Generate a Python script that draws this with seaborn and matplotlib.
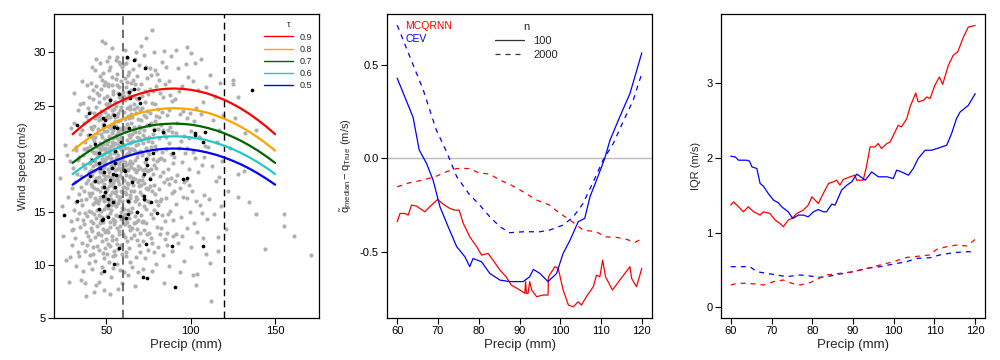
import numpy as np
import pandas as pd
import matplotlib
matplotlib.use("Agg")
import matplotlib.pyplot as plt
from matplotlib.lines import Line2D
import seaborn as sns

# ---------------- data ----------------
# panel 1: observations (gray) and the highlighted subset (black)
gray_pts = [
    (22.5, 18.2), (24.1, 12.7), (25.8, 21.3), (26.4, 10.5), (27.2, 16.4), (27.9, 8.4), (28.3, 19.8), (28.8, 14.1),
    (29.1, 22.9), (29.5, 11.9), (29.7, 17.2), (26.9, 20.3), (28.5, 10.7), (23.5, 15.5), (29.9, 13.3),
    (30.2, 19.1), (30.6, 15.2), (30.9, 23.4), (31.3, 12.5), (31.6, 17.8), (31.9, 9.9), (32.2, 21.1), (32.5, 14.3),
    (32.8, 18.6), (33.1, 11.2), (33.4, 24.6), (33.6, 16.7), (33.9, 20.2), (34.2, 13.6), (34.4, 22.3), (34.7, 8.6),
    (34.9, 17.3), (31.1, 26.2), (32.0, 15.9), (33.0, 19.9), (34.1, 10.8), (30.5, 13.4), (34.6, 25.1), (31.8, 20.8),
    (33.8, 14.9),
    (35.1, 18.4), (35.3, 12.1), (35.5, 22.7), (35.8, 15.6), (36.0, 20.3), (36.2, 9.4), (36.4, 25.2), (36.6, 17.0),
    (36.9, 13.8), (37.1, 21.6), (37.3, 19.1), (37.5, 11.3), (37.7, 24.0), (37.9, 16.2), (38.1, 7.1), (38.3, 20.8),
    (38.5, 14.6), (38.7, 26.9), (38.9, 18.0), (39.1, 12.7), (39.3, 22.2), (39.5, 15.1), (39.7, 19.6), (39.9, 10.2),
    (35.6, 27.3), (36.7, 23.4), (37.2, 14.9), (38.0, 17.7), (38.8, 21.0), (39.4, 24.8), (35.9, 19.5), (36.3, 14.2),
    (37.6, 8.3), (38.6, 11.9), (39.8, 16.8), (35.2, 16.1), (36.8, 20.9), (37.8, 13.1), (39.0, 23.6), (39.6, 18.7),
    (40.1, 21.2), (40.2, 16.5), (40.4, 12.3), (40.5, 24.4), (40.7, 18.9), (40.8, 14.1), (41.0, 27.1), (41.1, 20.0),
    (41.3, 9.6), (41.4, 17.4), (41.6, 22.8), (41.7, 13.2), (41.9, 25.6), (42.0, 19.3), (42.2, 15.7), (42.3, 11.0),
    (42.5, 23.1), (42.6, 17.9), (42.8, 21.7), (42.9, 14.8), (43.1, 28.3), (43.2, 19.8), (43.4, 12.6), (43.5, 16.3),
    (43.7, 24.9), (43.8, 20.6), (44.0, 8.1), (44.1, 18.2), (44.3, 22.4), (44.4, 15.2), (44.6, 26.2), (44.7, 13.7),
    (44.9, 19.0), (40.3, 19.6), (40.9, 23.0), (41.2, 15.0), (41.8, 18.5), (42.1, 26.5), (42.4, 13.9), (42.7, 20.5),
    (43.0, 10.4), (43.3, 23.8), (43.6, 18.0), (43.9, 14.4), (44.2, 21.1), (44.5, 17.1), (44.8, 24.0), (40.6, 10.9),
    (41.5, 20.7), (42.9, 17.2), (43.7, 29.4), (44.4, 11.8), (40.0, 25.8), (41.0, 13.5), (42.2, 21.9), (43.4, 15.9),
    (44.6, 20.2), (40.7, 17.6), (41.9, 11.7), (43.1, 22.0), (44.3, 16.0), (42.6, 7.4), (40.4, 22.1), (41.6, 16.8),
    (42.8, 24.3), (44.0, 19.5), (44.9, 12.9), (43.8, 26.8), (41.3, 28.6), (42.5, 18.8),
    (45.1, 20.4), (45.2, 15.8), (45.4, 23.6), (45.5, 11.4), (45.7, 18.3), (45.8, 26.0), (46.0, 13.9), (46.1, 21.5),
    (46.3, 17.0), (46.4, 29.0), (46.6, 9.2), (46.7, 19.7), (46.9, 24.5), (47.0, 15.1), (47.2, 22.0), (47.3, 12.2),
    (47.5, 18.9), (47.6, 27.4), (47.8, 16.3), (47.9, 20.9), (48.1, 14.0), (48.2, 23.3), (48.4, 10.6), (48.5, 19.2),
    (48.7, 25.7), (48.8, 17.6), (49.0, 21.8), (49.1, 13.1), (49.3, 30.9), (49.4, 18.1), (49.6, 23.9), (49.7, 15.5),
    (49.9, 20.1), (45.3, 17.8), (45.6, 21.1), (45.9, 14.7), (46.2, 24.1), (46.5, 19.0), (46.8, 12.8), (47.1, 26.6),
    (47.4, 20.3), (47.7, 14.5), (48.0, 18.6), (48.3, 28.1), (48.6, 16.0), (48.9, 22.6), (49.2, 11.6), (49.5, 19.9),
    (49.8, 25.1), (45.0, 22.8), (45.8, 8.4), (46.4, 16.4), (47.0, 21.2), (47.6, 18.0), (48.2, 13.4), (48.8, 26.9),
    (49.4, 21.0), (45.4, 19.4), (46.0, 27.8), (46.6, 14.2), (47.2, 17.3), (47.8, 23.0), (48.4, 20.4), (49.0, 16.7),
    (49.6, 12.4), (45.7, 25.3), (46.3, 20.8), (46.9, 17.9), (47.5, 9.8), (48.1, 21.4), (48.7, 15.3), (49.3, 24.4),
    (49.9, 17.0), (45.2, 13.0), (46.1, 18.7), (47.0, 23.7), (47.9, 11.1), (48.6, 19.6), (49.5, 27.2), (45.9, 16.1),
    (46.8, 22.3), (47.7, 20.0), (48.5, 7.6), (49.2, 18.4), (47.3, 31.1),
    (50.1, 19.5), (50.2, 23.8), (50.3, 14.6), (50.5, 21.4), (50.6, 17.1), (50.7, 27.0), (50.9, 12.0), (51.0, 20.2),
    (51.1, 24.9), (51.3, 15.9), (51.4, 18.7), (51.5, 29.6), (51.7, 10.3), (51.8, 22.1), (51.9, 16.6), (52.1, 20.8),
    (52.2, 13.6), (52.3, 25.6), (52.5, 18.2), (52.6, 23.2), (52.7, 8.9), (52.9, 19.9), (53.0, 15.2), (53.1, 27.7),
    (53.3, 21.6), (53.4, 17.5), (53.5, 12.7), (53.7, 24.2), (53.8, 19.2), (53.9, 14.3), (54.1, 22.7), (54.2, 26.4),
    (54.3, 16.0), (54.5, 20.5), (54.6, 11.3), (54.7, 18.0), (54.9, 23.5), (50.4, 25.9), (50.8, 18.4), (51.2, 13.1),
    (51.6, 21.0), (52.0, 17.8), (52.4, 28.6), (52.8, 15.6), (53.2, 22.4), (53.6, 19.6), (54.0, 9.7), (54.4, 24.7),
    (54.8, 17.2), (50.0, 16.3), (50.6, 22.6), (51.2, 19.0), (51.8, 25.2), (52.4, 14.9), (53.0, 20.1), (53.6, 16.9),
    (54.2, 21.3), (54.8, 13.8), (50.3, 11.0), (50.9, 21.7), (51.5, 17.4), (52.1, 23.9), (52.7, 19.3), (53.3, 12.3),
    (53.9, 26.1), (54.5, 18.5), (50.2, 29.2), (50.8, 15.4), (51.4, 23.0), (52.0, 20.4), (52.6, 16.2), (53.2, 24.6),
    (53.8, 21.9), (54.4, 14.1), (51.1, 26.8), (51.7, 18.9), (52.3, 11.8), (52.9, 22.9), (53.5, 30.4), (54.1, 17.7),
    (54.7, 20.9), (50.5, 13.3), (51.3, 20.6), (52.2, 7.3), (53.1, 18.3), (53.9, 23.3), (54.6, 15.7), (50.7, 24.1),
    (51.9, 14.0), (53.4, 26.9), (54.3, 19.4), (52.5, 21.2), (51.6, 28.3), (53.7, 10.8), (50.1, 20.7),
    (55.1, 21.5), (55.2, 16.8), (55.4, 25.3), (55.5, 12.4), (55.7, 19.7), (55.8, 23.1), (56.0, 14.7), (56.1, 28.0),
    (56.3, 18.1), (56.4, 21.9), (56.6, 10.1), (56.7, 20.3), (56.9, 26.2), (57.0, 15.8), (57.2, 22.5), (57.3, 17.6),
    (57.5, 29.1), (57.6, 13.2), (57.8, 19.1), (57.9, 24.6), (58.1, 16.4), (58.2, 21.1), (58.4, 11.9), (58.5, 18.8),
    (58.7, 27.3), (58.8, 15.0), (59.0, 22.8), (59.1, 19.9), (59.3, 8.3), (59.4, 25.7), (59.6, 17.3), (59.7, 21.4),
    (59.9, 13.9), (55.3, 18.9), (55.6, 27.5), (55.9, 20.6), (56.2, 13.5), (56.5, 24.0), (56.8, 17.9), (57.1, 11.5),
    (57.4, 20.0), (57.7, 26.7), (58.0, 18.5), (58.3, 23.6), (58.6, 14.3), (58.9, 20.9), (59.2, 28.6), (59.5, 16.0),
    (59.8, 19.3), (55.0, 14.1), (55.8, 22.2), (56.4, 19.0), (57.0, 24.3), (57.6, 16.1), (58.2, 9.5), (58.8, 22.0),
    (59.4, 18.2), (55.4, 23.9), (56.0, 17.0), (56.6, 29.6), (57.2, 14.6), (57.8, 21.7), (58.4, 26.0), (59.0, 15.4),
    (59.6, 23.0), (55.2, 10.9), (55.9, 25.0), (56.5, 16.5), (57.1, 21.3), (57.7, 12.9), (58.3, 19.8), (58.9, 24.9),
    (59.5, 11.0), (55.5, 20.1), (56.3, 26.9), (57.0, 18.4), (57.9, 22.7), (58.6, 17.0), (59.3, 20.7), (55.7, 15.5),
    (56.8, 23.5), (57.5, 19.5), (58.1, 28.9), (59.1, 16.9), (59.8, 26.3), (56.1, 12.0), (57.3, 25.8), (58.5, 21.9),
    (59.7, 14.6), (56.9, 7.7), (55.6, 29.3), (58.0, 13.7), (59.2, 19.0), (57.4, 22.9),
    (60.1, 20.2), (60.2, 24.4), (60.4, 15.3), (60.5, 22.6), (60.7, 18.0), (60.8, 27.6), (61.0, 12.6), (61.1, 21.0),
    (61.3, 25.5), (61.4, 16.7), (61.6, 19.4), (61.7, 29.0), (61.9, 10.8), (62.0, 23.3), (62.2, 17.2), (62.3, 21.8),
    (62.5, 14.0), (62.6, 26.3), (62.8, 19.0), (62.9, 24.0), (63.1, 9.0), (63.2, 20.6), (63.4, 15.9), (63.5, 28.2),
    (63.7, 22.2), (63.8, 18.3), (64.0, 13.3), (64.1, 25.0), (64.3, 19.8), (64.4, 15.0), (64.6, 23.4), (64.7, 27.1),
    (64.9, 17.0), (60.3, 17.3), (60.6, 28.9), (60.9, 19.7), (61.2, 14.3), (61.5, 22.9), (61.8, 18.5), (62.1, 12.2),
    (62.4, 20.4), (62.7, 27.9), (63.0, 17.6), (63.3, 23.8), (63.6, 11.6), (63.9, 21.5), (64.2, 16.3), (64.5, 26.5),
    (64.8, 20.9), (60.0, 12.9), (60.7, 21.2), (61.4, 26.7), (62.0, 16.1), (62.6, 22.9), (63.2, 13.7), (63.8, 24.7),
    (64.4, 19.2), (60.4, 25.9), (61.0, 16.9), (61.6, 11.2), (62.2, 24.8), (62.8, 15.2), (63.4, 19.5), (64.0, 22.0),
    (64.6, 12.5), (60.2, 9.3), (60.9, 23.7), (61.7, 20.3), (62.4, 29.5), (63.1, 18.9), (63.9, 16.6), (64.7, 21.6),
    (60.5, 19.0), (61.3, 13.8), (62.1, 27.2), (62.9, 21.0), (63.7, 26.0), (64.3, 10.3), (61.2, 30.2), (62.5, 17.7),
    (63.6, 14.4), (64.9, 24.2), (60.8, 14.8), (63.0, 25.7), (64.1, 18.4),
    (65.1, 19.6), (65.3, 23.9), (65.4, 15.4), (65.6, 27.4), (65.8, 18.2), (65.9, 21.7), (66.1, 12.8), (66.3, 25.1),
    (66.4, 17.0), (66.6, 20.8), (66.8, 29.4), (66.9, 14.6), (67.1, 22.5), (67.3, 18.7), (67.4, 10.7), (67.6, 24.3),
    (67.8, 16.4), (67.9, 20.2), (68.1, 27.8), (68.3, 13.4), (68.4, 22.0), (68.6, 17.8), (68.8, 25.6), (68.9, 19.3),
    (69.1, 11.9), (69.3, 23.1), (69.4, 15.7), (69.6, 28.8), (69.8, 20.7), (69.9, 16.9), (65.2, 13.5), (65.7, 25.9),
    (66.2, 19.0), (66.7, 16.0), (67.2, 27.0), (67.7, 21.3), (68.2, 15.0), (68.7, 23.7), (69.2, 18.0), (69.7, 13.0),
    (65.0, 22.3), (65.5, 9.8), (66.0, 17.5), (66.5, 23.0), (67.0, 19.9), (67.5, 14.0), (68.0, 24.9), (68.5, 20.5),
    (69.0, 9.3), (69.5, 21.9), (65.9, 28.4), (66.4, 22.7), (66.9, 18.1), (67.4, 25.7), (67.9, 12.3), (68.4, 18.9),
    (68.9, 26.6), (69.4, 17.4), (65.4, 17.9), (66.6, 13.9), (67.7, 30.0), (68.6, 21.4), (69.7, 24.6), (65.8, 20.9),
    (67.0, 8.0), (68.1, 16.2), (69.2, 22.5), (66.2, 24.7), (67.4, 20.6), (68.8, 14.2),
    (70.1, 19.1), (70.3, 23.6), (70.5, 14.7), (70.7, 27.0), (70.9, 20.3), (71.1, 16.6), (71.3, 24.8), (71.5, 12.2),
    (71.7, 21.5), (71.9, 18.4), (72.1, 29.8), (72.3, 15.5), (72.5, 22.7), (72.7, 19.7), (72.9, 10.6), (73.1, 25.3),
    (73.3, 17.2), (73.5, 21.0), (73.7, 13.9), (73.9, 27.6), (74.1, 18.8), (74.3, 23.2), (74.5, 16.0), (74.7, 20.6),
    (74.9, 11.4), (70.2, 11.2), (70.6, 21.8), (71.0, 25.9), (71.4, 18.0), (71.8, 14.1), (72.2, 24.1), (72.6, 17.7),
    (73.0, 21.9), (73.4, 28.6), (73.8, 15.3), (74.2, 20.1), (74.6, 26.1), (70.4, 17.5), (70.8, 30.6), (71.2, 20.5),
    (71.6, 9.6), (72.0, 22.2), (72.4, 13.3), (72.8, 26.4), (73.2, 19.0), (73.6, 23.9), (74.0, 12.9), (74.4, 21.7),
    (74.8, 17.1), (71.0, 14.0), (72.0, 18.9), (73.0, 16.1), (74.0, 24.5), (70.0, 22.9), (73.5, 31.4),
    (75.2, 20.4), (75.5, 15.9), (75.7, 24.3), (76.0, 18.2), (76.3, 27.9), (76.5, 12.5), (76.8, 21.6), (77.0, 17.0),
    (77.3, 25.2), (77.5, 14.4), (77.8, 22.3), (78.0, 19.4), (78.3, 30.0), (78.5, 11.2), (78.8, 23.5), (79.0, 16.7),
    (79.3, 20.8), (79.5, 26.8), (79.8, 13.6), (75.4, 22.0), (75.9, 28.5), (76.2, 14.8), (76.7, 19.0), (77.2, 9.4),
    (77.7, 26.4), (78.2, 17.5), (78.7, 21.2), (79.2, 10.1), (79.7, 24.0), (75.1, 13.0), (75.8, 17.4), (76.6, 23.4),
    (77.4, 20.0), (78.1, 15.2), (78.9, 28.3), (79.6, 19.1), (75.6, 26.6), (76.4, 21.1), (77.1, 12.1), (77.9, 18.6),
    (78.6, 25.1), (79.4, 16.0), (76.9, 32.1), (78.4, 22.8), (75.3, 18.9),
    (80.2, 19.8), (80.5, 24.7), (80.8, 15.6), (81.1, 21.9), (81.4, 27.4), (81.7, 12.9), (82.0, 18.4), (82.3, 23.2),
    (82.6, 16.2), (82.9, 29.1), (83.2, 20.6), (83.5, 10.9), (83.8, 25.8), (84.1, 17.8), (84.4, 22.4), (84.7, 14.1),
    (80.3, 28.0), (80.7, 11.7), (81.0, 17.1), (81.5, 23.9), (82.0, 26.2), (82.5, 20.1), (83.0, 14.7), (83.4, 22.7),
    (84.0, 19.9), (84.5, 27.0), (84.9, 12.4), (81.2, 20.0), (82.2, 13.5), (83.7, 18.7), (80.9, 22.8), (82.8, 24.4),
    (84.2, 8.3), (81.8, 16.0), (83.9, 30.1),
    (85.2, 20.9), (85.5, 16.3), (85.9, 24.1), (86.2, 13.0), (86.6, 19.0), (86.9, 27.3), (87.3, 21.5), (87.6, 15.1),
    (88.0, 23.0), (88.3, 18.2), (88.7, 11.3), (89.0, 25.4), (89.4, 19.6), (89.7, 14.2), (85.4, 28.6), (85.8, 11.9),
    (86.4, 22.7), (87.0, 17.6), (87.8, 26.0), (88.5, 20.4), (89.2, 22.5), (89.9, 17.0), (86.0, 18.1), (87.4, 9.9),
    (88.2, 29.7), (89.5, 12.7), (85.6, 22.0), (86.8, 14.8), (88.8, 16.8), (87.1, 24.6),
    (90.3, 20.2), (90.7, 25.6), (91.1, 15.7), (91.5, 22.4), (91.9, 18.5), (92.3, 28.5), (92.7, 12.1), (93.1, 21.0),
    (93.5, 17.2), (93.9, 24.2), (94.3, 14.5), (94.7, 19.7), (95.1, 26.8), (95.5, 16.4), (95.9, 22.1), (96.3, 10.4),
    (96.7, 20.5), (97.1, 18.0), (97.5, 23.8), (97.9, 13.5), (98.3, 27.7), (98.7, 19.0), (99.1, 21.9), (99.5, 15.0),
    (99.9, 29.9), (90.5, 17.9), (91.3, 12.9), (92.1, 23.4), (93.0, 26.4), (94.0, 21.7), (95.0, 12.7), (96.0, 17.8),
    (97.0, 28.9), (98.0, 21.0), (99.0, 17.5), (91.0, 30.2), (93.7, 9.3), (95.7, 24.5), (97.7, 16.3), (99.7, 24.3),
    (98.0, 30.5),
    (100.4, 22.6), (100.9, 17.0), (101.5, 27.3), (102.0, 13.9), (102.6, 20.1), (103.1, 24.8), (103.7, 9.1),
    (104.2, 18.7), (104.8, 22.0), (105.3, 15.6), (105.9, 29.4), (106.4, 19.4), (107.0, 12.5), (107.5, 25.3),
    (108.1, 16.6), (108.6, 21.2), (109.2, 26.7), (109.7, 14.3), (100.2, 11.7), (101.2, 20.6), (102.3, 29.0),
    (103.4, 16.0), (104.5, 26.5), (105.6, 21.9), (106.7, 14.9), (107.8, 20.2), (108.9, 11.0), (101.8, 23.5),
    (104.0, 13.1), (106.1, 24.2), (101.4, 9.0), (103.4, 8.1),
    (110.4, 21.1), (111.0, 16.2), (111.6, 27.9), (112.2, 6.6), (112.8, 19.3), (113.4, 23.6), (114.0, 14.8),
    (114.6, 25.8), (115.2, 17.9), (115.8, 21.6), (116.4, 12.6), (117.0, 22.7), (117.6, 27.1), (118.2, 15.5),
    (118.8, 19.8), (119.4, 24.1), (111.3, 10.2), (116.8, 18.3), (115.9, 11.3),
    (121.8, 17.0), (120.8, 13.4), (124.8, 27.4), (124.9, 27.0), (127.8, 25.8), (127.8, 18.6), (131.7, 18.8),
    (127.8, 16.4), (132.3, 22.4), (138.7, 22.7), (134.7, 15.9), (138.7, 14.8), (155.2, 14.8), (155.2, 13.7),
    (160.9, 12.7), (144.0, 11.5), (171.0, 10.9), (123.5, 21.0), (126.0, 23.8),
]

black_pts = [
    (25.0, 14.7), (32.9, 23.2), (32.6, 16.0), (39.9, 24.3), (40.5, 22.2), (41.5, 19.9), (40.3, 18.4), (43.3, 17.9),
    (43.1, 21.4), (45.4, 20.5), (45.8, 19.6), (46.4, 19.1), (45.8, 15.3), (47.4, 14.2), (47.8, 23.8), (48.4, 23.2),
    (49.4, 23.6), (48.4, 18.7), (48.8, 17.3), (49.0, 16.9), (48.2, 16.5), (50.8, 16.2), (50.8, 15.6), (50.8, 14.5),
    (47.8, 14.3), (48.4, 9.4), (52.0, 25.5), (52.4, 18.0), (53.4, 19.1), (53.8, 18.6), (54.4, 24.1), (54.8, 23.0),
    (55.4, 20.7), (55.4, 19.6), (56.0, 18.5), (55.4, 17.3), (53.8, 15.9), (54.3, 10.1), (56.3, 22.9), (57.7, 26.1),
    (57.9, 14.6), (57.8, 11.6), (58.7, 21.6), (60.3, 18.9), (61.0, 18.8), (62.3, 29.6), (63.3, 26.3), (63.1, 16.0),
    (63.1, 14.8), (61.7, 14.4), (63.7, 22.9), (63.9, 25.7), (65.3, 17.8), (66.3, 26.6), (66.3, 29.3), (68.3, 15.0),
    (69.2, 25.7), (69.8, 25.2), (72.0, 8.9), (73.9, 8.8), (72.2, 18.6), (72.6, 16.5), (72.6, 16.2), (73.0, 28.5),
    (73.3, 12.0), (73.4, 20.0), (74.0, 19.4), (75.6, 18.1), (75.2, 23.2), (76.6, 15.9), (77.8, 20.5), (78.2, 22.7),
    (80.2, 14.9), (83.7, 22.5), (88.9, 11.8), (89.7, 20.5), (90.8, 7.9), (95.3, 18.1), (97.6, 18.2), (102.5, 22.4),
    (102.7, 22.2), (107.0, 11.8), (107.0, 21.6), (108.3, 22.5), (136.1, 26.5),
]

# panel 1: fitted conditional quantile curves
curve_x = [30, 35, 40, 45, 50, 55, 60, 65, 70, 75, 80, 85, 90,
           95, 100, 105, 110, 115, 120, 125, 130, 135, 140, 145, 150]
tau_labels = ["0.9", "0.8", "0.7", "0.6", "0.5"]
q90 = [22.30, 22.99, 23.61, 24.18, 24.69, 25.14, 25.53, 25.85, 26.12, 26.33, 26.48, 26.57, 26.60,
       26.57, 26.48, 26.33, 26.12, 25.85, 25.53, 25.14, 24.69, 24.18, 23.61, 22.99, 22.30]
q80 = [20.75, 21.39, 21.97, 22.50, 22.97, 23.39, 23.75, 24.06, 24.31, 24.50, 24.64, 24.72, 24.75,
       24.72, 24.64, 24.50, 24.31, 24.06, 23.75, 23.39, 22.97, 22.50, 21.97, 21.39, 20.75]
q70 = [19.60, 20.19, 20.73, 21.22, 21.66, 22.04, 22.38, 22.66, 22.89, 23.07, 23.20, 23.27, 23.30,
       23.27, 23.20, 23.07, 22.89, 22.66, 22.38, 22.04, 21.66, 21.22, 20.73, 20.19, 19.60]
q60 = [18.55, 19.12, 19.63, 20.10, 20.52, 20.89, 21.21, 21.48, 21.71, 21.88, 22.00, 22.08, 22.10,
       22.08, 22.00, 21.88, 21.71, 21.48, 21.21, 20.89, 20.52, 20.10, 19.63, 19.12, 18.55]
q50 = [17.55, 18.09, 18.59, 19.04, 19.44, 19.79, 20.10, 20.36, 20.57, 20.74, 20.86, 20.93, 20.95,
       20.93, 20.86, 20.74, 20.57, 20.36, 20.10, 19.79, 19.44, 19.04, 18.59, 18.09, 17.55]

# panel 2: median bias, x / y per method and n
bias_cev100_x = [60, 63.9, 65.4, 67.2, 68.8, 70.5, 72.5, 74.6, 76.6, 77.8, 78.6, 80.7, 82.7, 85.2, 87.6, 90.9,
                 92.5, 93.4, 95, 97, 99.1, 100.7, 102.4, 104.4, 106, 107.3, 108.9, 110.9, 112.2, 114.6, 117.1, 120]
bias_cev100_y = [0.43, 0.22, 0.045, -0.027, -0.116, -0.26, -0.366, -0.473, -0.527, -0.58, -0.536, -0.554,
                 -0.616, -0.652, -0.66, -0.66, -0.634, -0.595, -0.616, -0.66, -0.616, -0.509, -0.438, -0.339,
                 -0.321, -0.205, -0.116, 0.0, 0.098, 0.223, 0.348, 0.566]
bias_cev2000_x = [60, 63.1, 66.4, 69.6, 72.1, 74.6, 77.8, 79.9, 82.7, 85.2, 87.6, 90.9, 95, 97.4, 100.7,
                  103.2, 105.6, 108.1, 110.5, 113, 115.4, 117.9, 120]
bias_cev2000_y = [0.714, 0.545, 0.366, 0.152, 0.036, -0.098, -0.196, -0.241, -0.3125, -0.366, -0.398, -0.393,
                  -0.393, -0.384, -0.357, -0.3125, -0.241, -0.125, -0.009, 0.08, 0.196, 0.3125, 0.455]
bias_mcq2000_x = [60, 63.1, 66.4, 69.6, 72.1, 74.6, 77.8, 79.9, 82.7, 85.2, 88, 90.9, 94.2, 97.4, 99.9,
                  102.4, 105.6, 108.9, 110.9, 113.8, 116.3, 118.3, 120]
bias_mcq2000_y = [-0.152, -0.13, -0.116, -0.095, -0.071, -0.054, -0.054, -0.077, -0.084, -0.116, -0.143,
                  -0.179, -0.223, -0.25, -0.295, -0.33, -0.384, -0.393, -0.42, -0.423, -0.434, -0.45, -0.43]
bias_mcq100_x = [60, 60.7, 61.9, 62.7, 63.5, 64.7, 66.8, 68, 69.9, 71.3, 72.9, 74.1, 75.2, 76.2, 77.8, 79.5,
                 80.7, 82.3, 83.5, 85.2, 86.7, 88, 90.1, 91.3, 91.5, 91.7, 92.1, 92.5, 93, 94.2, 95.8, 97,
                 97.1, 98.7, 99.5, 100.7, 102, 103.2, 104.4, 105.2, 106.4, 108.1, 108.9, 109.7, 110.4, 111.1,
                 112.8, 114.6, 117.1, 117.5, 118.7, 120]
bias_mcq100_y = [-0.339, -0.295, -0.295, -0.304, -0.25, -0.255, -0.286, -0.259, -0.22, -0.245, -0.268,
                 -0.277, -0.277, -0.348, -0.42, -0.473, -0.518, -0.509, -0.545, -0.598, -0.634, -0.679,
                 -0.705, -0.723, -0.66, -0.723, -0.723, -0.66, -0.705, -0.741, -0.732, -0.732, -0.634,
                 -0.58, -0.589, -0.705, -0.786, -0.795, -0.768, -0.786, -0.741, -0.6875, -0.625, -0.634,
                 -0.545, -0.634, -0.705, -0.652, -0.58, -0.643, -0.6875, -0.589]

# panel 3: IQR
iqr_mcq100_x = [60, 60.7, 61.9, 63.1, 64.3, 65.6, 67.2, 68, 69.6, 70.9, 72.1, 72.9, 74.1, 75, 76.2, 77.8, 79,
                79.9, 80.7, 81.5, 82.7, 84, 85.2, 86, 86.8, 87.6, 89.3, 90.5, 90.9, 92.5, 93.2, 94.2, 95.4,
                96.2, 97, 98.3, 99.1, 100.3, 101.1, 101.9, 103.2, 104, 105.4, 106, 107.3, 108.1, 108.9, 110.1,
                111.2, 112, 113.4, 114.6, 115.7, 117.1, 118.3, 120]
iqr_mcq100_y = [1.366, 1.41, 1.344, 1.277, 1.344, 1.277, 1.233, 1.277, 1.255, 1.166, 1.12, 1.077, 1.166,
                1.188, 1.255, 1.3, 1.366, 1.478, 1.433, 1.389, 1.522, 1.656, 1.678, 1.7, 1.633, 1.709, 1.745,
                1.767, 1.7, 1.7, 1.856, 2.145, 2.145, 2.19, 2.123, 2.19, 2.21, 2.345, 2.434, 2.412, 2.523,
                2.68, 2.866, 2.746, 2.768, 2.813, 2.79, 2.968, 3.08, 2.98, 3.235, 3.37, 3.414, 3.614, 3.747,
                3.77]
iqr_cev100_x = [60, 61.1, 61.9, 63.9, 64.6, 65.2, 66.4, 67.2, 68, 69.2, 70.5, 71.7, 72.5, 74.1, 75.2, 76.6,
                77.8, 79, 80.3, 81.5, 82.7, 83.5, 84.8, 85.6, 87.2, 88.5, 89.7, 90.9, 91.7, 93, 94.6, 96.2,
                98.3, 99.9, 100.7, 101.9, 103.6, 104.8, 106, 107.7, 109.3, 111.3, 113, 114.2, 115.4, 116.3,
                118.3, 120]
iqr_cev100_y = [2.02, 2.01, 1.967, 1.967, 1.954, 1.878, 1.856, 1.656, 1.62, 1.522, 1.433, 1.397, 1.344,
                1.277, 1.188, 1.233, 1.233, 1.21, 1.277, 1.308, 1.277, 1.277, 1.38, 1.366, 1.567, 1.633,
                1.678, 1.78, 1.753, 1.7, 1.81, 1.745, 1.745, 1.722, 1.834, 1.81, 1.767, 1.856, 1.99, 2.1,
                2.1, 2.136, 2.167, 2.323, 2.523, 2.612, 2.7, 2.857]
iqr_cev2000_x = [60, 64.7, 66.4, 68.8, 71.3, 73.7, 77, 79.5, 81.9, 84.4, 86.8, 90.1, 93.4, 96.6, 99.9,
                 103.2, 105.6, 108.9, 111.3, 114.6, 117.9, 120]
iqr_cev2000_y = [0.543, 0.543, 0.476, 0.454, 0.432, 0.41, 0.432, 0.418, 0.4, 0.418, 0.445, 0.476, 0.52,
                 0.543, 0.578, 0.61, 0.654, 0.663, 0.7, 0.73, 0.743, 0.743]
iqr_mcq2000_x = [60, 61.5, 63.9, 66.4, 68, 70.5, 72.9, 75, 77, 79.5, 81.1, 83.5, 86.8, 90.1, 93.4, 96.6,
                 99.9, 103.2, 106.4, 108.9, 110.5, 113, 115.4, 117.9, 120]
iqr_mcq2000_y = [0.298, 0.32, 0.32, 0.31, 0.298, 0.343, 0.365, 0.32, 0.298, 0.33, 0.374, 0.432, 0.454,
                 0.476, 0.52, 0.565, 0.61, 0.667, 0.685, 0.7, 0.774, 0.81, 0.832, 0.82, 0.908]

# ---------------- plotting ----------------
sns.set_theme(style="ticks")
plt.rcParams["font.family"] = ["Liberation Sans", "DejaVu Sans"]
plt.rcParams["mathtext.fontset"] = "custom"
plt.rcParams["mathtext.rm"] = "Liberation Sans"
plt.rcParams["mathtext.it"] = "Liberation Sans"

fig = plt.figure(figsize=(10, 3.6), dpi=100)
ax1 = fig.add_axes([0.054, 0.1167, 0.265, 0.844])
ax2 = fig.add_axes([0.387, 0.1167, 0.265, 0.844])
ax3 = fig.add_axes([0.721, 0.1167, 0.264, 0.844])

dash = (0, (4, 4))

# panel 1
gray = pd.DataFrame(gray_pts, columns=["precip", "wind"])
black = pd.DataFrame(black_pts, columns=["precip", "wind"])
sns.scatterplot(data=gray, x="precip", y="wind", ax=ax1, color="#b0b0b0", s=9, linewidth=0, zorder=1)
sns.scatterplot(data=black, x="precip", y="wind", ax=ax1, color="black", s=7, linewidth=0, zorder=2)
ax1.axvline(60, color="#555555", lw=1.2, ls=(0, (5, 3)), zorder=3)
ax1.axvline(120, color="black", lw=1.0, ls=(0, (5, 3)), zorder=3)
tau_colors = ["#ff0000", "#ffa500", "#006400", "#22c8c8", "#0000ff"]
for lab, vals, col in zip(tau_labels, [q90, q80, q70, q60, q50], tau_colors):
    sns.lineplot(x=curve_x, y=vals, ax=ax1, color=col, lw=1.6, label=lab, zorder=4)
leg1 = ax1.legend(title="τ", loc="upper right", bbox_to_anchor=(1.0, 1.0), frameon=False, fontsize=6.5,
                  title_fontsize=6.5, handlelength=3.2, labelspacing=0.35, borderaxespad=0.3)
for line in leg1.get_lines():
    line.set_linewidth(1.0)
ax1.set_xlim(19, 176)
ax1.set_ylim(5, 33.6)
ax1.set_xticks([50, 100, 150])
ax1.set_yticks([5, 10, 15, 20, 25, 30])
ax1.set_xlabel("Precip (mm)", fontsize=9.5, labelpad=2)
ax1.set_ylabel("Wind speed (m/s)", fontsize=8, labelpad=4)

# panel 2
ax2.axhline(0, color="#bbbbbb", lw=1.0, zorder=1)
sns.lineplot(x=bias_mcq100_x, y=bias_mcq100_y, ax=ax2, color="#ff0000", lw=0.9, sort=False, estimator=None)
sns.lineplot(x=bias_cev100_x, y=bias_cev100_y, ax=ax2, color="#0000ff", lw=0.9, sort=False, estimator=None)
sns.lineplot(x=bias_mcq2000_x, y=bias_mcq2000_y, ax=ax2, color="#ff0000", lw=0.9, ls=dash, sort=False, estimator=None)
sns.lineplot(x=bias_cev2000_x, y=bias_cev2000_y, ax=ax2, color="#0000ff", lw=0.9, ls=dash, sort=False, estimator=None)
ax2.text(0.068, 0.962, "MCQRNN", color="#ff0000", fontsize=7.5, transform=ax2.transAxes, va="center")
ax2.text(0.068, 0.919, "CEV", color="#0000ff", fontsize=7.5, transform=ax2.transAxes, va="center")
n_handles = [Line2D([], [], color="#333333", lw=0.9), Line2D([], [], color="#333333", lw=0.9, ls=dash)]
ax2.legend(n_handles, ["100", "2000"], title="n", loc="upper left", bbox_to_anchor=(0.38, 1.0), frameon=False,
           fontsize=8, title_fontsize=8, handlelength=2.6, labelspacing=0.35, borderaxespad=0.3)
ax2.set_xlim(57.5, 122.5)
ax2.set_ylim(-0.855, 0.773)
ax2.set_xticks([60, 70, 80, 90, 100, 110, 120])
ax2.set_yticks([-0.5, 0.0, 0.5])
ax2.set_yticklabels(["-0.5", "0.0", "0.5"])
ax2.set_xlabel("Precip (mm)", fontsize=9.5, labelpad=2)
ax2.set_ylabel(r"$\tilde{\mathrm{q}}_{\mathrm{median}} - \mathrm{q}_{\mathrm{True}}$ (m/s)", fontsize=8, labelpad=4)

# panel 3
sns.lineplot(x=iqr_mcq100_x, y=iqr_mcq100_y, ax=ax3, color="#ff0000", lw=0.9, sort=False, estimator=None)
sns.lineplot(x=iqr_cev100_x, y=iqr_cev100_y, ax=ax3, color="#0000ff", lw=0.9, sort=False, estimator=None)
sns.lineplot(x=iqr_cev2000_x, y=iqr_cev2000_y, ax=ax3, color="#0000ff", lw=0.9, ls=dash, sort=False, estimator=None)
sns.lineplot(x=iqr_mcq2000_x, y=iqr_mcq2000_y, ax=ax3, color="#ff0000", lw=0.9, ls=dash, sort=False, estimator=None)
ax3.set_xlim(57.6, 122.4)
ax3.set_ylim(-0.143, 3.92)
ax3.set_xticks([60, 70, 80, 90, 100, 110, 120])
ax3.set_yticks([0, 1, 2, 3])
ax3.set_xlabel("Precip (mm)", fontsize=9.5, labelpad=2)
ax3.set_ylabel("IQR (m/s)", fontsize=8, labelpad=4)

for ax in (ax1, ax2, ax3):
    for sp in ax.spines.values():
        sp.set_visible(True)
        sp.set_color("black")
        sp.set_linewidth(0.9)
    ax.tick_params(axis="both", direction="out", length=4, width=0.8, labelsize=8, colors="black", pad=2)
    ax.grid(False)

fig.savefig("out.png", dpi=100)
